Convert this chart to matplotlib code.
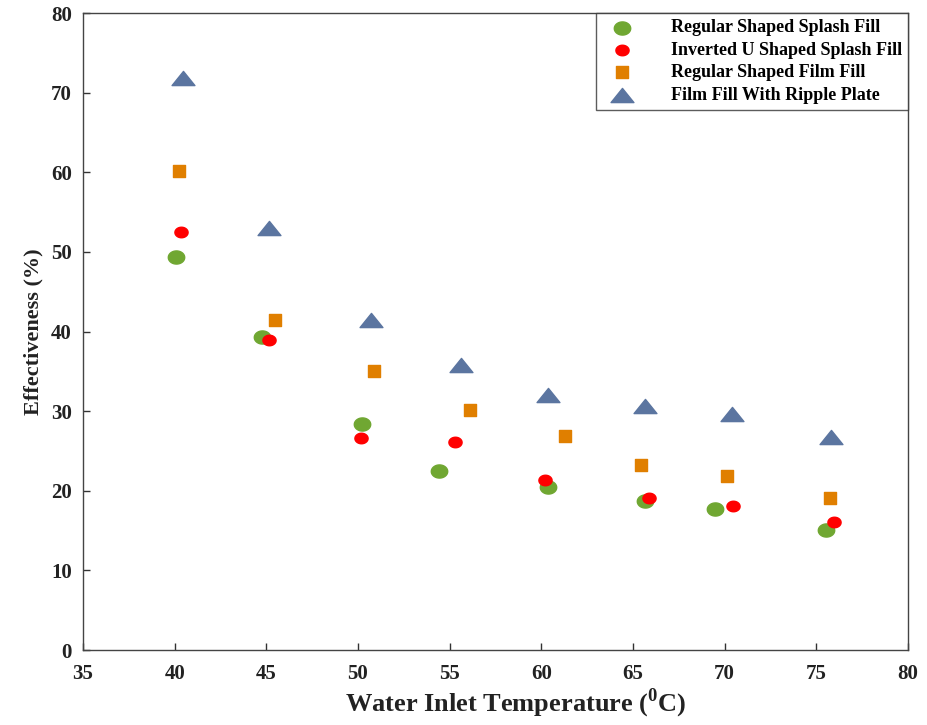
import numpy as np
import matplotlib
matplotlib.use('Agg')
import matplotlib.pyplot as plt
from matplotlib.path import Path

plt.rcParams['font.family'] = ['Liberation Serif', 'DejaVu Serif']
plt.rcParams['mathtext.fontset'] = 'custom'
plt.rcParams['mathtext.rm'] = 'Liberation Serif:bold'
plt.rcParams['mathtext.bf'] = 'Liberation Serif:bold'

# data
splash_x = [40.05, 44.75, 50.2, 54.4, 60.35, 65.65, 69.45, 75.55]
splash_y = [49.4, 39.3, 28.4, 22.5, 20.5, 18.7, 17.7, 15.1]
inv_u_x = [40.35, 45.15, 50.15, 55.3, 60.2, 65.9, 70.45, 75.95]
inv_u_y = [52.5, 39.0, 26.6, 26.1, 21.4, 19.1, 18.1, 16.1]
film_x = [40.25, 45.5, 50.85, 56.1, 61.3, 65.45, 70.15, 75.75]
film_y = [60.2, 41.5, 35.0, 30.2, 26.9, 23.3, 21.9, 19.1]
ripple_x = [40.45, 45.15, 50.7, 55.6, 60.35, 65.65, 70.4, 75.8]
ripple_y = [71.9, 53.0, 41.4, 35.8, 32.0, 30.6, 29.7, 26.7]
labels = ['Regular Shaped Splash Fill', 'Inverted U Shaped Splash Fill',
          'Regular Shaped Film Fill', 'Film Fill With Ripple Plate']

# slightly flattened markers like the original
t = np.linspace(0, 2 * np.pi, 40)
ellipse = Path(np.column_stack([1.25 * np.cos(t), np.sin(t)]), closed=True)
tri = Path([(-1, -0.62), (1, -0.62), (0, 0.62), (-1, -0.62)], closed=True)

fig = plt.figure(figsize=(9.27, 7.25), dpi=100)
ax = fig.add_axes([0.0895, 0.1034, 0.89, 0.8786])

ax.scatter(splash_x, splash_y, marker=ellipse, s=140, color='#70a732', label=labels[0], zorder=3)
ax.scatter(inv_u_x, inv_u_y, marker=ellipse, s=90, color='#ff0000', label=labels[1], zorder=4)
ax.scatter(film_x, film_y, marker='s', s=80, color='#e07f00', label=labels[2], zorder=3)
ax.scatter(ripple_x, ripple_y, marker=tri, s=270, color='#5b75a0', label=labels[3], zorder=3)

ax.set_xlim(35, 80)
ax.set_ylim(0, 80)
ax.set_xticks(np.arange(35, 81, 5))
ax.set_yticks(np.arange(0, 81, 10))
ax.tick_params(direction='in', length=5, width=1, colors='#333333', labelsize=15,
               top=False, right=False)
ax.tick_params(axis='x', pad=10)
ax.tick_params(axis='y', pad=8)
for lab in ax.get_xticklabels() + ax.get_yticklabels():
    lab.set_fontweight('bold')
    lab.set_color('#222222')
for sp in ax.spines.values():
    sp.set_color('#444444')
    sp.set_linewidth(1.0)

ax.set_xlabel(r'Water Inlet Temperature ($^{0}$C)', fontsize=19, fontweight='bold',
              color='#222222')
ax.xaxis.set_label_coords(0.525, -0.058)
ax.set_ylabel('Effectiveness (%)', fontsize=16, fontweight='bold', color='#222222')
ax.yaxis.set_label_coords(-0.048, 0.5)

leg = ax.legend(loc='upper right', prop={'weight': 'bold', 'size': 13},
                frameon=True, fancybox=False, borderpad=0.35, labelspacing=0.3,
                handletextpad=1.6, handlelength=2.2, borderaxespad=0.0, markerscale=1.0)
leg.get_frame().set_edgecolor('#333333')
leg.get_frame().set_linewidth(1.0)

fig.savefig('out.png', dpi=100)
